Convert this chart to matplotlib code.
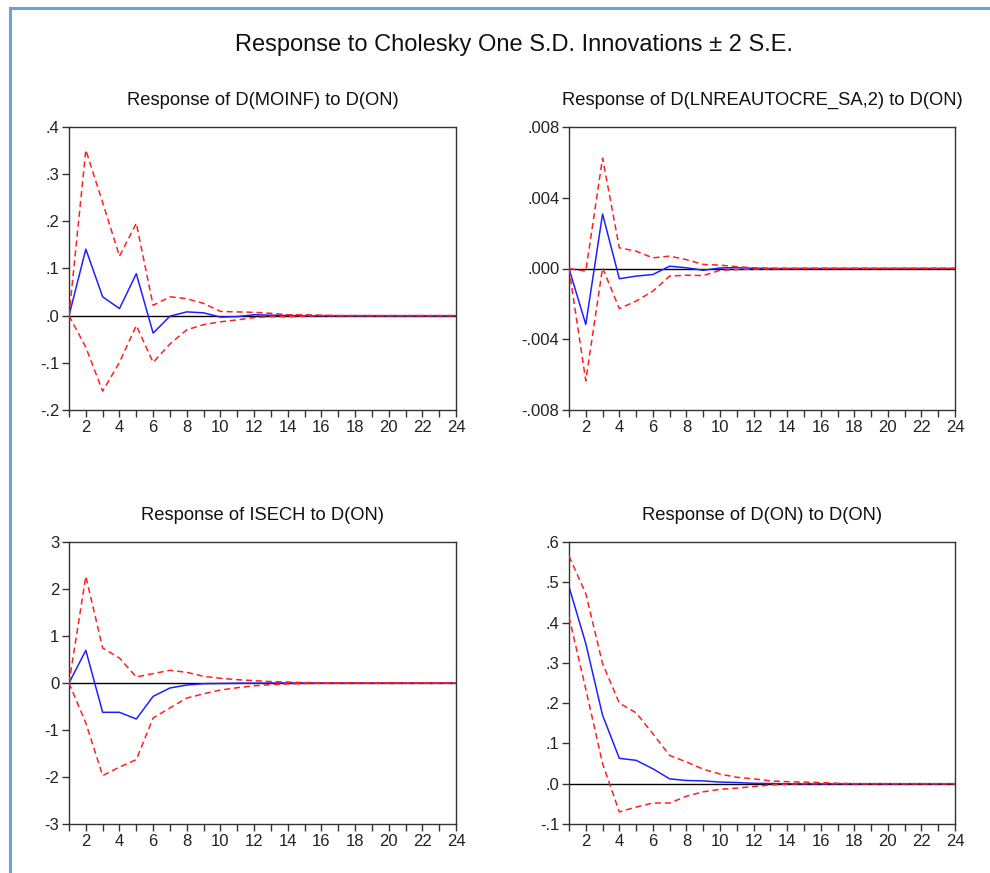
import matplotlib
matplotlib.use("Agg")
import matplotlib.pyplot as plt
from matplotlib.lines import Line2D

plt.rcParams['font.family'] = ['Liberation Sans', 'DejaVu Sans']

periods = list(range(1, 25))

# Panel 1: Response of D(MOINF) to D(ON)
p1_resp = [0, 0.141, 0.040, 0.015, 0.089, -0.037, -0.001, 0.008, 0.006, -0.003,
           -0.002, 0.002, 0.001, 0.0005, 0, 0, 0, 0, 0, 0, 0, 0, 0, 0]
p1_upper = [0, 0.351, 0.240, 0.126, 0.196, 0.022, 0.040, 0.036, 0.026, 0.009,
            0.008, 0.007, 0.005, 0.002, 0.002, 0.001, 0, 0, 0, 0, 0, 0, 0, 0]
p1_lower = [0, -0.067, -0.160, -0.099, -0.021, -0.099, -0.060, -0.030, -0.019, -0.013,
            -0.009, -0.004, -0.002, -0.002, -0.001, 0, 0, 0, 0, 0, 0, 0, 0, 0]

# Panel 2: Response of D(LNREAUTOCRE_SA,2) to D(ON)
p2_resp = [0, -0.00316, 0.00308, -0.00058, -0.00043, -0.00034, 0.00013, 0.00004, -0.0001, 0.00003,
           0.00005, 0.00001, 0, 0, 0, 0, 0, 0, 0, 0, 0, 0, 0, 0]
p2_upper = [0, -0.00015, 0.00624, 0.00117, 0.00098, 0.0006, 0.0007, 0.0005, 0.00023, 0.00019,
            0.0001, 0.00004, 0.00002, 0.00001, 0.00001, 0.00001, 0.00001, 0.00001, 0.00001, 0.00001,
            0.00001, 0.00001, 0.00001, 0.00001]
p2_lower = [0, -0.00635, 0.00004, -0.00227, -0.00184, -0.00128, -0.00043, -0.00038, -0.0004, -0.0001,
            -0.00006, -0.00004, -0.00002, -0.00001, 0, 0, 0, 0, 0, 0, 0, 0, 0, 0]

# Panel 3: Response of ISECH to D(ON)
p3_resp = [0, 0.695, -0.624, -0.624, -0.766, -0.284, -0.106, -0.043, -0.015, -0.010,
           -0.005, -0.003, -0.001, 0, 0, 0, 0, 0, 0, 0, 0, 0, 0, 0]
p3_upper = [0, 2.27, 0.745, 0.53, 0.128, 0.20, 0.27, 0.227, 0.142, 0.10,
            0.07, 0.05, 0.03, 0.02, 0.01, 0.005, 0.003, 0.001, 0, 0, 0, 0, 0, 0]
p3_lower = [0, -0.85, -1.97, -1.79, -1.63, -0.745, -0.53, -0.32, -0.23, -0.15,
            -0.10, -0.06, -0.035, -0.02, -0.01, -0.005, -0.002, 0, 0, 0, 0, 0, 0, 0]

# Panel 4: Response of D(ON) to D(ON)
p4_resp = [0.489, 0.348, 0.170, 0.063, 0.058, 0.037, 0.012, 0.008, 0.007, 0.004,
           0.003, 0.001, 0.0005, 0, 0, 0, 0, 0, 0, 0, 0, 0, 0, 0]
p4_upper = [0.565, 0.472, 0.298, 0.200, 0.176, 0.124, 0.070, 0.054, 0.036, 0.024,
            0.016, 0.012, 0.007, 0.005, 0.004, 0.003, 0.001, 0, 0, 0, 0, 0, 0, 0]
p4_lower = [0.414, 0.235, 0.050, -0.070, -0.058, -0.048, -0.048, -0.031, -0.020, -0.014,
            -0.011, -0.007, -0.003, -0.001, 0, 0, 0, 0, 0, 0, 0, 0, 0, 0]

titles = ["Response of D(MOINF) to D(ON)",
          "Response of D(LNREAUTOCRE_SA,2) to D(ON)",
          "Response of ISECH to D(ON)",
          "Response of D(ON) to D(ON)"]

p1_yticks = [-0.2, -0.1, 0.0, 0.1, 0.2, 0.3, 0.4]
p1_ylabels = ["-.2", "-.1", ".0", ".1", ".2", ".3", ".4"]
p2_yticks = [-0.008, -0.004, 0.0, 0.004, 0.008]
p2_ylabels = ["-.008", "-.004", ".000", ".004", ".008"]
p3_yticks = [-3, -2, -1, 0, 1, 2, 3]
p3_ylabels = ["-3", "-2", "-1", "0", "1", "2", "3"]
p4_yticks = [-0.1, 0.0, 0.1, 0.2, 0.3, 0.4, 0.5, 0.6]
p4_ylabels = ["-.1", ".0", ".1", ".2", ".3", ".4", ".5", ".6"]

panels = [
    (p1_resp, p1_upper, p1_lower, p1_yticks, p1_ylabels),
    (p2_resp, p2_upper, p2_lower, p2_yticks, p2_ylabels),
    (p3_resp, p3_upper, p3_lower, p3_yticks, p3_ylabels),
    (p4_resp, p4_upper, p4_lower, p4_yticks, p4_ylabels),
]

W, H = 990, 873
fig = plt.figure(figsize=(W / 100, H / 100), dpi=100)
fig.patch.set_facecolor("white")

# axes boxes in pixel coords: (left, top, right, bottom)
boxes = [(69, 127, 456, 410), (569, 127, 955, 410),
         (69, 542, 456, 824), (569, 542, 955, 824)]

# window frame line
frame_col = "#6f9fdc"
fig.add_artist(Line2D([10 / W, 10 / W], [0, 1 - 8 / H], transform=fig.transFigure,
                      color=frame_col, lw=2.2))
fig.add_artist(Line2D([10 / W, 1], [1 - 8 / H, 1 - 8 / H], transform=fig.transFigure,
                      color=frame_col, lw=2.2))

fig.text(514 / W, 1 - 45 / H, "Response to Cholesky One S.D. Innovations \u00b1 2 S.E.",
         ha="center", va="center", fontsize=17, color="#111111")

xlabels = [str(p) if p % 2 == 0 else "" for p in periods]

for (resp, up, lo, yt, yl), (l, t, r, b), title in zip(panels, boxes, titles):
    ax = fig.add_axes([l / W, 1 - b / H, (r - l) / W, (b - t) / H])
    ax.axhline(0, color="black", lw=1.0, zorder=1)
    ax.plot(periods, resp, color="#2020ff", lw=1.1, zorder=2)
    ax.plot(periods, up, color="#ff2020", lw=1.1, ls=(0, (4, 2.5)), zorder=3)
    ax.plot(periods, lo, color="#ff2020", lw=1.1, ls=(0, (4, 2.5)), zorder=3)
    ax.set_xlim(1, 24)
    ax.set_ylim(yt[0], yt[-1])
    ax.set_yticks(yt)
    ax.set_yticklabels(yl)
    ax.set_xticks(periods)
    ax.set_xticklabels(xlabels)
    ax.tick_params(direction="out", length=5, width=1, labelsize=12, color="#333333",
                   labelcolor="#222222", pad=2)
    for s in ax.spines.values():
        s.set_color("#333333")
        s.set_linewidth(1.0)
    ax.set_title(title, fontsize=13.2, pad=16, color="#111111")

fig.savefig("out.png", dpi=100, facecolor="white")
